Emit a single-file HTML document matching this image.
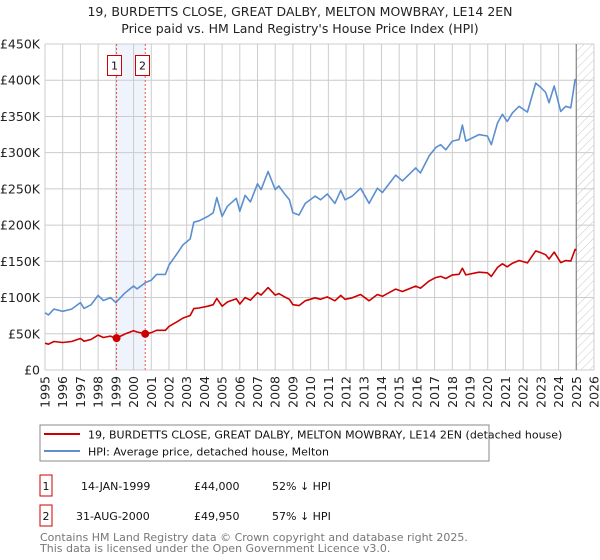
<!DOCTYPE html>
<html><head><meta charset="utf-8">
<style>
body{margin:0;background:#fff;font-family:"DejaVu Sans","Liberation Sans",sans-serif;}
#wrap{position:relative;width:600px;height:560px;overflow:hidden;}
</style></head>
<body>
<div id="wrap">
<svg id="svg" width="600" height="560" xmlns="http://www.w3.org/2000/svg" font-family="DejaVu Sans, Liberation Sans, sans-serif">
<defs>
<pattern id="hatch" patternUnits="userSpaceOnUse" width="6" height="6" patternTransform="rotate(45)">
<line x1="0" y1="0" x2="0" y2="6" stroke="#c8c8c8" stroke-width="1"/>
</pattern>
</defs>
<text x="300" y="16" text-anchor="middle" font-size="12.5" fill="#222">19, BURDETTS CLOSE, GREAT DALBY, MELTON MOWBRAY, LE14 2EN</text>
<text x="300" y="33" text-anchor="middle" font-size="12.5" fill="#222">Price paid vs. HM Land Registry's House Price Index (HPI)</text>
<g id="grid"></g>
<g id="marks"></g>
<g id="axes"></g>
<rect x="40" y="425" width="449" height="36" fill="none" stroke="#888"/>
<line x1="44" y1="434" x2="80" y2="434" stroke="#cc0000" stroke-width="2"/>
<text x="88" y="438.5" font-size="11" fill="#111">19, BURDETTS CLOSE, GREAT DALBY, MELTON MOWBRAY, LE14 2EN (detached house)</text>
<line x1="44" y1="451" x2="80" y2="451" stroke="#5b8fd0" stroke-width="2"/>
<text x="88" y="455.5" font-size="11" fill="#111">HPI: Average price, detached house, Melton</text>
<g>
<rect x="40" y="475" width="12" height="21" fill="none" stroke="#cc0000"/>
<text x="46" y="490" text-anchor="middle" font-size="11" fill="#111">1</text>
<text x="81" y="490" font-size="11" fill="#111">14-JAN-1999</text>
<text x="194" y="490" font-size="11" fill="#111">£44,000</text>
<text x="272" y="490" font-size="11" fill="#111">52% ↓ HPI</text>
</g>
<g>
<rect x="40" y="505" width="12" height="21" fill="none" stroke="#cc0000"/>
<text x="46" y="520" text-anchor="middle" font-size="11" fill="#111">2</text>
<text x="76" y="520" font-size="11" fill="#111">31-AUG-2000</text>
<text x="194" y="520" font-size="11" fill="#111">£49,950</text>
<text x="272" y="520" font-size="11" fill="#111">57% ↓ HPI</text>
</g>
<text x="40" y="541" font-size="11" fill="#777">Contains HM Land Registry data © Crown copyright and database right 2025.</text>
<text x="40" y="552" font-size="11" fill="#777">This data is licensed under the Open Government Licence v3.0.</text>
</svg>
</div>
<script>
var hpiYears=[1995.0,1995.2,1995.5,1996.0,1996.5,1997.0,1997.2,1997.6,1998.0,1998.3,1998.7,1999.0,1999.5,2000.0,2000.2,2000.7,2001.0,2001.3,2001.8,2002.0,2002.5,2002.8,2003.2,2003.4,2003.7,2004.2,2004.5,2004.7,2005.0,2005.3,2005.8,2006.0,2006.3,2006.6,2007.0,2007.2,2007.6,2008.0,2008.2,2008.5,2008.8,2009.0,2009.34,2009.7,2010.25,2010.56,2010.94,2011.37,2011.7,2011.94,2012.35,2012.82,2013.3,2013.77,2014.05,2014.8,2015.18,2015.93,2016.2,2016.7,2017.06,2017.34,2017.63,2018.0,2018.38,2018.57,2018.76,2019.5,2019.98,2020.2,2020.55,2020.83,2021.1,2021.4,2021.77,2022.24,2022.71,2023.0,2023.27,2023.46,2023.75,2024.12,2024.4,2024.69,2024.93,2025.0];
var hpiValues=[79,76,84,81,84,93,85,90,103,96,100,93,106,116,112,121,124,132,132,145,162,173,181,204,206,212,217,238,212,226,237,219,241,232,257,249,274,249,254,244,235,217,214,230,240,235,243,230,248,235,240,251,230,251,245,269,261,279,272,296,307,311,304,316,318,338,316,325,323,311,341,353,343,355,364,356,396,390,383,369,392,357,364,362,401,399];
var saleDates=[1999.04,2000.66];
var salePrices=[44,49.95];
var yTicks=[0,50,100,150,200,250,300,350,400,450];
var yTickLabels=["£0","£50K","£100K","£150K","£200K","£250K","£300K","£350K","£400K","£450K"];
var xTicks=[1995,1996,1997,1998,1999,2000,2001,2002,2003,2004,2005,2006,2007,2008,2009,2010,2011,2012,2013,2014,2015,2016,2017,2018,2019,2020,2021,2022,2023,2024,2025,2026];

var X0=45,X1=594,Y0=370,Y1=44,xMin=1995,xMax=2026,yMax=450,dataEnd=2025.0;
function xs(v){return X0+(v-xMin)/(xMax-xMin)*(X1-X0);}
function ys(v){return Y0-v/yMax*(Y0-Y1);}
var NS="http://www.w3.org/2000/svg";
function mk(tag,attrs,parent){var e=document.createElementNS(NS,tag);for(var k in attrs)e.setAttribute(k,attrs[k]);parent.appendChild(e);return e;}
function hpiAt(t){for(var i=1;i<hpiYears.length;i++){if(t<=hpiYears[i]){var a=hpiYears[i-1],b=hpiYears[i];return hpiValues[i-1]+(hpiValues[i]-hpiValues[i-1])*(t-a)/(b-a);}}return hpiValues[hpiValues.length-1];}
var grid=document.getElementById('grid'),marks=document.getElementById('marks'),axes=document.getElementById('axes');

var band=mk('rect',{x:xs(saleDates[0]),y:Y1,width:xs(saleDates[1])-xs(saleDates[0]),height:Y0-Y1,fill:'#eef3fc'},grid);


var hat=mk('rect',{x:xs(dataEnd),y:Y1,width:X1-xs(dataEnd),height:Y0-Y1,fill:'url(#hatch)'},grid);


yTicks.forEach(function(v,i){
 var l=mk('line',{x1:X0,x2:X1,y1:ys(v),y2:ys(v),stroke:'#cccccc','stroke-width':1},grid);
 
 
 var t=mk('text',{x:X0-5,y:ys(v)+4.5,'text-anchor':'end','font-size':12.5,fill:'#222'},axes);
 t.textContent=yTickLabels[i];
 
 
});
xTicks.forEach(function(v){
 var l=mk('line',{x1:xs(v),x2:xs(v),y1:Y1,y2:Y0,stroke:'#cccccc','stroke-width':1},grid);
 
 
 var t=mk('text',{x:0,y:0,'text-anchor':'end','font-size':12.5,fill:'#222',transform:'translate('+(xs(v)+4.5)+','+(Y0+6)+') rotate(-90)'},axes);
 t.textContent=v;
 
 
});
var endLine=mk('line',{x1:xs(dataEnd),x2:xs(dataEnd),y1:Y1,y2:Y0,stroke:'#888','stroke-width':1.2},grid);



var d='';hpiYears.forEach(function(t,i){d+=(i?'L':'M')+xs(t).toFixed(1)+','+ys(hpiValues[i]).toFixed(1);});
var hp=mk('path',{d:d,fill:'none',stroke:'#5b8fd0','stroke-width':1.6,'stroke-linejoin':'round'},marks);


var r0=salePrices[0]/hpiAt(saleDates[0]),r1=salePrices[1]/hpiAt(saleDates[1]);
var pts=[];hpiYears.forEach(function(t,i){pts.push([t,hpiValues[i]]);});
pts.push([saleDates[0],hpiAt(saleDates[0])]);pts.push([saleDates[1],hpiAt(saleDates[1])]);
pts.sort(function(a,b){return a[0]-b[0];});
var d2='';pts.forEach(function(p,i){var r=p[0]<saleDates[1]?r0:r1;d2+=(i?'L':'M')+xs(p[0]).toFixed(1)+','+ys(p[1]*r).toFixed(1);});
var pp=mk('path',{d:d2,fill:'none',stroke:'#cc0000','stroke-width':1.6,'stroke-linejoin':'round'},marks);


saleDates.forEach(function(t,i){
 var vl=mk('line',{x1:xs(t),x2:xs(t),y1:Y1,y2:Y0,stroke:'#ee5555','stroke-width':1,'stroke-dasharray':'2,2'},marks);
 
 
 var c=mk('circle',{cx:xs(t),cy:ys(salePrices[i]),r:4,fill:'#cc0000'},marks);
 
 
 var bx=Math.round(xs(t)-10)+0.5;
 var b=mk('rect',{x:bx,y:55.5,width:14,height:20,fill:'#fff',stroke:'#cc0000'},marks);
 
 
 var tx=mk('text',{x:bx+7,y:69.5,'text-anchor':'middle','font-size':11,fill:'#111'},marks);
 tx.textContent=String(i+1);
 
 
});
</script>
</body></html>
